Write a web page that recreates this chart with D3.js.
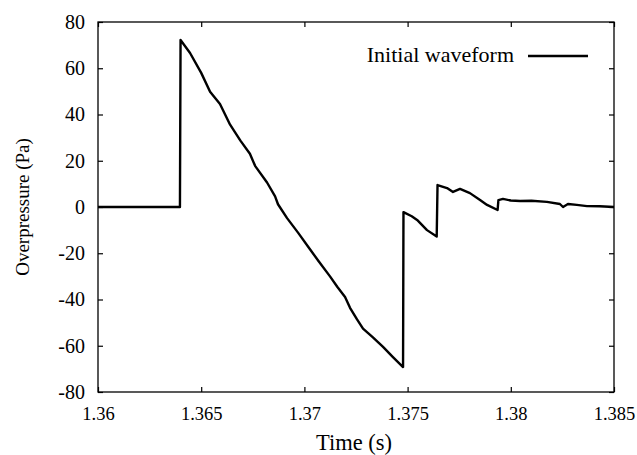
<!DOCTYPE html>
<html><head><meta charset="utf-8">
<script src="https://cdn.jsdelivr.net/npm/d3@7"></script>
<style>body{margin:0;background:#fff}svg{display:block}text{font-family:"Liberation Serif","Times New Roman",serif;fill:#000}</style>
</head><body><svg id="c" width="637" height="455"></svg>
<script>
const times = [1.3600,1.36397,1.36400,1.36446,1.36500,1.36543,1.36591,1.36640,1.36690,1.36736,1.36761,1.36819,1.36858,1.36872,1.36916,1.36970,1.37020,1.37070,1.37124,1.37160,1.37197,1.37221,1.37255,1.37284,1.37332,1.37381,1.37429,1.37478,1.37480,1.37520,1.37546,1.37594,1.37641,1.37645,1.37691,1.37720,1.37754,1.37802,1.37851,1.37885,1.37936,1.37940,1.37962,1.38000,1.38045,1.38100,1.38175,1.38238,1.38253,1.38277,1.38320,1.38369,1.38430,1.38500];
const overpressure = [0,0,72.2,66.6,58.0,49.8,44.5,35.6,28.7,23.0,17.8,10.6,4.6,1.2,-4.8,-11.2,-17.4,-23.6,-30.0,-34.6,-38.9,-43.6,-48.6,-52.6,-56.4,-60.5,-64.9,-69.2,-2.2,-4.0,-5.6,-10.0,-12.8,9.5,8.2,6.5,7.8,6.0,3.0,0.9,-1.3,3.0,3.5,2.8,2.6,2.7,2.2,1.3,0,1.3,0.9,0.4,0.3,0];
const xTicks = [1.36,1.365,1.37,1.375,1.38,1.385];
const xTickLabels = ["1.36","1.365","1.37","1.375","1.38","1.385"];
const yTicks = [-80,-60,-40,-20,0,20,40,60,80];
const yTickLabels = ["-80","-60","-40","-20","0","20","40","60","80"];
const seriesName = "Initial waveform";

const svg = d3.select("#c");
const L=98,R=614,T=22,B=392;
const x = d3.scaleLinear().domain([1.36,1.385]).range([L,R]);
const y = d3.scaleLinear().domain([-80,80]).range([B,T]);

const g = svg.append("g");
g.append("rect").attr("x",L).attr("y",T).attr("width",R-L).attr("height",B-T)
 .attr("fill","none").attr("stroke","#000").attr("stroke-width",1.3);

const axB = g.append("g").attr("transform",`translate(0,${B})`)
 .call(d3.axisBottom(x).tickValues(xTicks).tickFormat((d,i)=>xTickLabels[i]).tickSizeInner(-5).tickSizeOuter(0).tickPadding(15));
const axT = g.append("g").attr("transform",`translate(0,${T})`)
 .call(d3.axisTop(x).tickValues(xTicks).tickFormat("").tickSizeInner(-5).tickSizeOuter(0));
const axL = g.append("g").attr("transform",`translate(${L},0)`)
 .call(d3.axisLeft(y).tickValues(yTicks).tickFormat((d,i)=>yTickLabels[i]).tickSizeInner(-5).tickSizeOuter(0).tickPadding(13));
const axR = g.append("g").attr("transform",`translate(${R},0)`)
 .call(d3.axisRight(y).tickValues(yTicks).tickFormat("").tickSizeInner(-5).tickSizeOuter(0));
[axB,axT,axL,axR].forEach(a=>{a.select(".domain").remove();a.selectAll("line").attr("stroke","#000").attr("stroke-width",1.2);});
axB.selectAll("text").style("font-family",'"Liberation Serif",serif').style("font-size","18.5px").attr("fill","#000");
axL.selectAll("text").style("font-family",'"Liberation Serif",serif').style("font-size","20px").attr("fill","#000");

const line = d3.line().x((d,i)=>x(times[i])).y(d=>y(d));
g.append("path").datum(overpressure).attr("d",line).attr("fill","none")
 .attr("stroke","#000").attr("stroke-width",2.4).attr("stroke-linejoin","round");

g.append("text").attr("x",514).attr("y",62).attr("text-anchor","end").style("font-size","22px").text(seriesName);
g.append("line").attr("x1",528).attr("x2",588).attr("y1",56).attr("y2",56).attr("stroke","#000").attr("stroke-width",2.4);

g.append("text").attr("x",354).attr("y",450).attr("text-anchor","middle").style("font-size","22.5px").text("Time (s)");
g.append("text").attr("transform",`translate(29,${(T+B)/2}) rotate(-90)`).attr("text-anchor","middle").style("font-size","19px").text("Overpressure (Pa)");
</script></body></html>
